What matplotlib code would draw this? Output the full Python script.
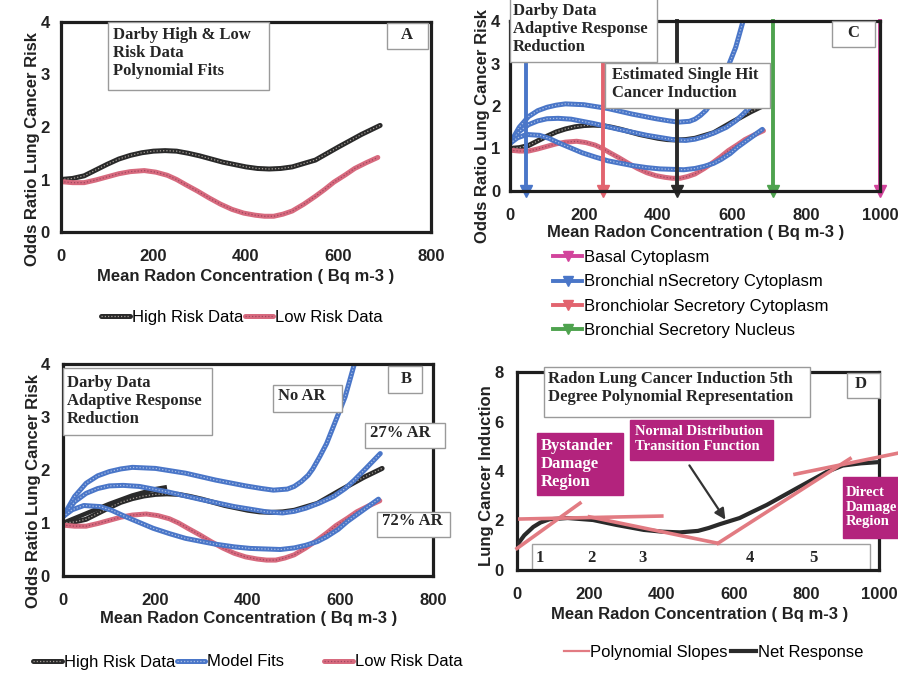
import matplotlib
matplotlib.use('Agg')
import matplotlib.pyplot as plt
from matplotlib.patches import Rectangle
from matplotlib.lines import Line2D
import numpy as np

W, H = 898, 684

# Darby high / low risk polynomial fits (panels A, B, C)
high_x = [0, 25, 50, 75, 100, 125, 150, 175, 200, 225, 250, 275, 300, 350, 400, 425, 450,
          475, 500, 550, 600, 650, 690]
high_y = [1.00, 1.02, 1.07, 1.18, 1.29, 1.39, 1.46, 1.51, 1.54, 1.55, 1.54, 1.50, 1.45, 1.33,
          1.24, 1.21, 1.20, 1.21, 1.24, 1.37, 1.62, 1.86, 2.03]
low_x = [0, 25, 50, 75, 100, 125, 150, 180, 205, 230, 250, 270, 295, 320, 345, 370, 395, 420,
         440, 460, 480, 500, 525, 550, 570, 590, 615, 635, 660, 685]
low_y = [0.96, 0.94, 0.94, 0.99, 1.05, 1.11, 1.15, 1.17, 1.14, 1.08, 1.00, 0.90, 0.78, 0.65,
         0.53, 0.43, 0.36, 0.32, 0.30, 0.30, 0.34, 0.40, 0.53, 0.68, 0.81, 0.95, 1.09, 1.21,
         1.32, 1.42]
# short solid black piece seen in panel B
seg_x = [0, 50, 100, 150, 200, 220]
seg_y = [1.00, 1.18, 1.36, 1.52, 1.64, 1.67]

# model fits (adaptive response)
noar_x = [0, 25, 50, 75, 100, 125, 150, 200, 265, 330, 395, 430, 455, 485, 500, 515, 530, 540,
          555, 570, 590, 610, 630]
noar_y = [1.12, 1.50, 1.75, 1.89, 1.97, 2.02, 2.05, 2.03, 1.94, 1.81, 1.70, 1.65, 1.62, 1.64,
          1.69, 1.78, 1.90, 2.02, 2.25, 2.50, 2.94, 3.38, 4.00]
ar27_x = [0, 25, 50, 75, 100, 130, 165, 225, 295, 370, 440, 475, 500, 525, 555, 585, 610, 630,
          655, 686]
ar27_y = [1.12, 1.40, 1.56, 1.65, 1.70, 1.71, 1.69, 1.59, 1.45, 1.31, 1.21, 1.19, 1.22, 1.28,
          1.38, 1.50, 1.65, 1.81, 2.03, 2.31]
ar72_x = [0, 20, 45, 80, 105, 135, 165, 195, 230, 265, 300, 330, 370, 405, 470, 500, 525, 550,
          570, 595, 615, 650, 682]
ar72_y = [1.12, 1.25, 1.33, 1.31, 1.24, 1.12, 1.01, 0.90, 0.80, 0.71, 0.65, 0.60, 0.55, 0.52,
          0.50, 0.53, 0.58, 0.65, 0.74, 0.88, 1.03, 1.25, 1.45]

# panel C: single hit doses per cell type
cell_names = ['Basal Cytoplasm', 'Bronchial nSecretory Cytoplasm',
              'Bronchiolar Secretory Cytoplasm', 'Bronchial Secretory Nucleus']
cell_dose = [1000, 43, 251, 711]
cell_cols = ['#d2449c', '#4a76c8', '#e2646f', '#4ea24e']
black_dose = 451

# panel D
net_x = [0, 20, 45, 65, 90, 140, 210, 275, 350, 400, 450, 500, 530, 560, 615, 650, 690, 780,
         855, 900, 950, 1000]
net_y = [1.00, 1.40, 1.74, 1.92, 2.05, 2.10, 2.02, 1.82, 1.62, 1.55, 1.52, 1.58, 1.70, 1.85,
         2.10, 2.35, 2.63, 3.36, 3.96, 4.22, 4.31, 4.36]
slope_x = [[0, 174], [8, 400], [200, 555], [555, 920], [768, 1052]]
slope_y = [[0.87, 2.70], [2.06, 2.18], [2.15, 1.08], [1.08, 4.50], [3.87, 4.72]]
region_labels = ['1', '2', '3', '4', '5']
region_x = [64, 207, 348, 644, 820]

BLACK = '#2a2a2a'
PINK = '#d76a7e'
BLUE = '#4a76c8'
MAG = '#b3237d'
SANS = 'Liberation Sans'
SERIF = 'Liberation Serif'

fig = plt.figure(figsize=(W / 100, H / 100), dpi=100)


def fx(x):
    return x / W


def fy(y):
    return 1 - y / H


def px_axes(l, t, r, b):
    return fig.add_axes([fx(l), fy(b), (r - l) / W, (b - t) / H])


def style(ax, xmax, ymax, ystep, ypad, xlab_xy, ylab_xy, ylab):
    ax.set_xlim(0, xmax)
    ax.set_ylim(0, ymax)
    ax.set_xticks(np.arange(0, xmax + 1, 200))
    ax.set_yticks(np.arange(0, ymax + 1, ystep))
    ax.tick_params(length=0, labelsize=12, colors='#222222')
    ax.tick_params(axis='y', pad=ypad)
    ax.tick_params(axis='x', pad=12)
    for lab in ax.get_xticklabels() + ax.get_yticklabels():
        lab.set_fontweight('bold')
        lab.set_family(SANS)
    for s in ax.spines.values():
        s.set_linewidth(2.3)
        s.set_color('#1e1e1e')
    ax.set_xlabel('Mean Radon Concentration ( Bq m-3 )', fontsize=12,
                  fontweight='bold', family=SANS, color='#222222', va='center')
    ax.set_ylabel(ylab, fontsize=12, fontweight='bold', family=SANS,
                  color='#222222', va='center')
    ax.xaxis.set_label_coords(fx(xlab_xy[0]), fy(xlab_xy[1]), transform=fig.transFigure)
    ax.yaxis.set_label_coords(fx(ylab_xy[0]), fy(ylab_xy[1]), transform=fig.transFigure)


def curve(ax, x, y, col, dots, **kw):
    a, = ax.plot(x, y, color=col, lw=3.6, solid_capstyle='round', **kw)
    b, = ax.plot(x, y, color=dots, lw=0.9, ls=(0, (1, 1.6)), alpha=0.75, **kw)
    return (a, b)


def box(l, t, r, b, fc='white', ec='#9a9a9a'):
    fig.add_artist(Rectangle((fx(l), fy(b)), (r - l) / W, (b - t) / H,
                             transform=fig.transFigure, fc=fc, ec=ec, lw=1, zorder=3))


def label(x, y, s, size=12, color='#262626', ha='left'):
    fig.text(fx(x), fy(y), s, family=SERIF, weight='bold', size=size, color=color,
             ha=ha, va='center', linespacing=1.2, zorder=4)


def legend(handles, labels, x, y, ncol=1, hl=1.7, cs=0.1, ls=0.3):
    # legend boxes sit about 7 px right of their anchor, so pull them back
    return fig.legend(handles, labels, loc='center left', bbox_to_anchor=(fx(x - 7), fy(y)),
                      ncol=ncol, frameon=False, borderpad=0, handlelength=hl,
                      handletextpad=0.12, columnspacing=cs, labelspacing=ls,
                      prop=dict(family=SANS, size=12))


# ---------------- panel A ----------------
axA = px_axes(61, 22, 431, 232)
style(axA, 800, 4, 1, 8, (246, 277), (33, 149), 'Odds Ratio Lung Cancer Risk')
hA = curve(axA, high_x, high_y, BLACK, '#cfc6bd')
lA = curve(axA, low_x, low_y, PINK, '#8e3b56')
box(108, 22, 269, 90)
label(113, 53, 'Darby High & Low\nRisk Data\nPolynomial Fits')
box(387, 23, 428, 49)
label(407, 35, 'A', ha='center')
legend([hA, lA], ['High Risk Data', 'Low Risk Data'], 100, 317, ncol=2)

# ---------------- panel B ----------------
axB = px_axes(63, 364, 433, 576)
style(axB, 800, 4, 1, 9.5, (249, 619), (34, 491), 'Odds Ratio Lung Cancer Risk')
axB.plot(seg_x, seg_y, color=BLACK, lw=3.2)
hB = curve(axB, high_x, high_y, BLACK, '#cfc6bd')
lB = curve(axB, low_x, low_y, PINK, '#8e3b56')
mB = curve(axB, noar_x, noar_y, BLUE, '#c9d6ee')
curve(axB, ar27_x, ar27_y, BLUE, '#c9d6ee')
curve(axB, ar72_x, ar72_y, BLUE, '#c9d6ee')
box(63, 368, 212, 435)
label(67, 401, 'Darby Data\nAdaptive Response\nReduction')
box(388, 366, 422, 393)
label(406, 379, 'B', ha='center')
box(273, 385, 342, 412)
label(302, 396, 'No AR', ha='center')
box(365, 423, 445, 448)
label(400, 433, '27% AR', ha='center')
box(377, 512, 450, 537)
label(412, 521, '72% AR', ha='center')
legend([hB, mB], ['High Risk Data', 'Model Fits'], 32, 662, ncol=2)
legend([lB], ['Low Risk Data'], 323, 662)

# ---------------- panel C ----------------
axC = px_axes(510, 21, 880, 191)
style(axC, 1000, 4, 1, 7, (696, 233), (482, 126), 'Odds Ratio Lung Cancer Risk')
curve(axC, high_x, high_y, BLACK, '#cfc6bd')
curve(axC, low_x, low_y, PINK, '#8e3b56')
curve(axC, noar_x, noar_y, BLUE, '#c9d6ee')
curve(axC, ar27_x, ar27_y, BLUE, '#c9d6ee')
curve(axC, ar72_x, ar72_y, BLUE, '#c9d6ee')
axC.plot([black_dose, black_dose], [4, 0], color=BLACK, lw=2.8, marker='v',
         markevery=[1], ms=8, clip_on=False)
cell_handles = []
for name, dose, col in zip(cell_names, cell_dose, cell_cols):
    axC.plot([dose, dose], [4, 0], color=col, lw=2.8, marker='v',
             markevery=[1], ms=8, clip_on=False)
    cell_handles.append(Line2D([], [], color=col, lw=2.8, marker='v', ms=7))
box(510, -6, 657, 62)
label(513, 29, 'Darby Data\nAdaptive Response\nReduction')
box(832, 21, 875, 47)
label(853, 33, 'C', ha='center')
box(605, 63, 770, 108)
label(612, 84, 'Estimated Single Hit\nCancer Induction')
legend(cell_handles, cell_names, 552, 294, ls=0.55)

# ---------------- panel D ----------------
axD = px_axes(517, 372, 879, 570)
style(axD, 1000, 8, 2, 9.5, (700, 614), (487, 476), 'Lung Cancer Induction')
axD.add_patch(Rectangle((41, 0), 934, 1.05, fc='white', ec='#a0a0a0', lw=1, zorder=1))
for s, xv in zip(region_labels, region_x):
    axD.text(xv, 0.5, s, family=SERIF, weight='bold', size=12, color='#262626',
             ha='center', va='center', zorder=2)
for xs, ys in zip(slope_x, slope_y):
    axD.plot(xs, ys, color='#e27b82', lw=2.6, clip_on=False, zorder=4)
nD, = axD.plot(net_x, net_y, color=BLACK, lw=3.0, zorder=3)
axD.annotate('', xy=(580, 1.94), xytext=(472, 4.32),
             arrowprops=dict(arrowstyle='-|>', color='#333333', lw=1.6, mutation_scale=16))
box(544, 367, 810, 417)
label(548, 388, 'Radon Lung Cancer Induction 5th\nDegree Polynomial Representation')
box(847, 373, 880, 398)
label(861, 384, 'D', ha='center')
box(537, 433, 623, 495, fc=MAG, ec=MAG)
label(541, 464, 'Bystander\nDamage\nRegion', color='white')
box(630, 420, 773, 460, fc=MAG, ec=MAG)
label(635, 439, 'Normal Distribution\nTransition Function', size=10.5, color='white')
box(843, 477, 905, 538, fc=MAG, ec=MAG)
label(846, 507, 'Direct\nDamage\nRegion', size=10.5, color='white')
legend([Line2D([], [], color='#e27b82', lw=1.6), nD],
       ['Polynomial Slopes', 'Net Response'], 563, 652, ncol=2, hl=1.45, cs=0.2)

fig.savefig('out.png', dpi=100)
